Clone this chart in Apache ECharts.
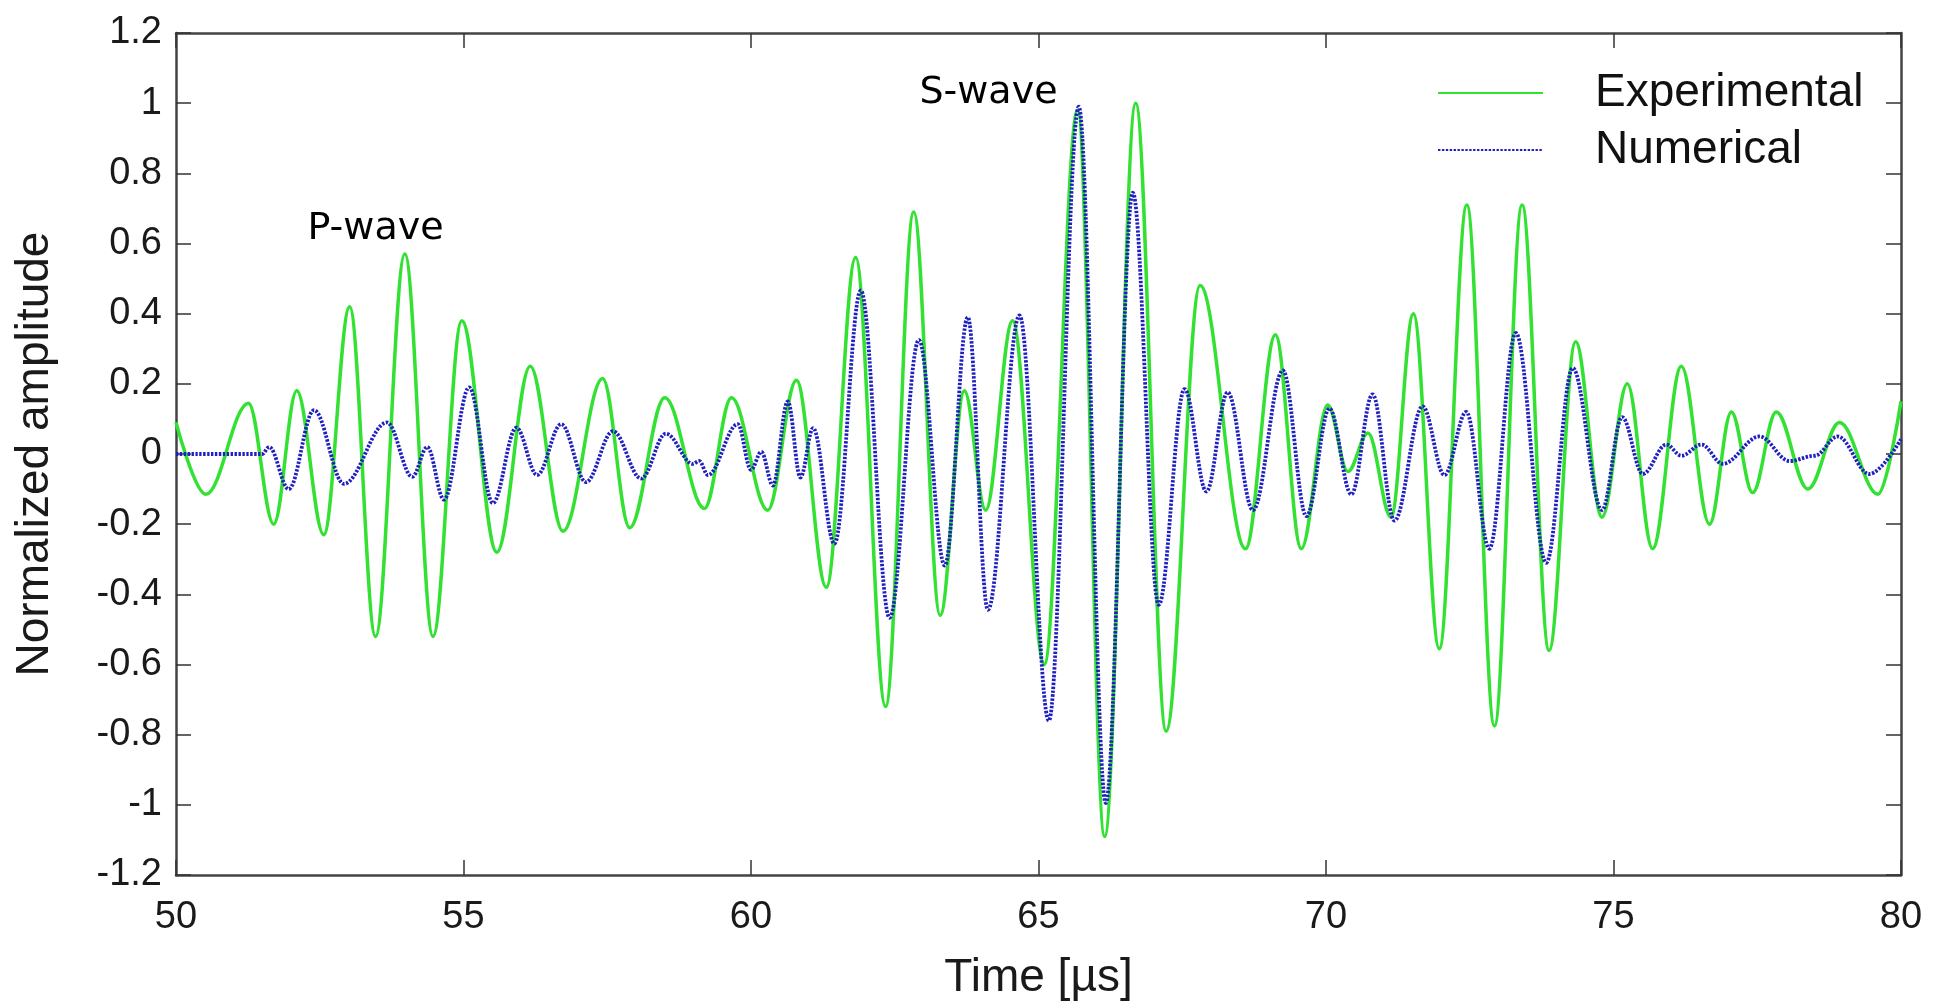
<!DOCTYPE html>
<html><head><meta charset="utf-8">
<script src="https://cdn.jsdelivr.net/npm/echarts@6/dist/echarts.min.js"></script>
<style>html,body{margin:0;padding:0;background:#fff}#c{width:1936px;height:1006px}</style>
</head><body><div id="c"></div>
<script>
const expTime = [50.00,50.52,51.26,51.70,52.10,52.57,53.02,53.47,53.98,54.47,54.97,55.58,56.16,56.73,57.42,57.89,58.50,59.19,59.66,60.29,60.79,61.31,61.82,62.34,62.83,63.29,63.71,64.08,64.55,65.10,65.68,66.15,66.69,67.22,67.81,68.60,69.12,69.57,70.03,70.38,70.73,71.13,71.52,71.97,72.45,72.93,73.41,73.88,74.34,74.80,75.24,75.68,76.18,76.67,77.05,77.42,77.83,78.38,78.93,79.60,80.00];
const expAmp  = [0.09,-0.115,0.145,-0.20,0.18,-0.23,0.42,-0.52,0.57,-0.52,0.38,-0.28,0.25,-0.22,0.215,-0.21,0.16,-0.155,0.16,-0.16,0.21,-0.38,0.56,-0.72,0.69,-0.46,0.18,-0.16,0.38,-0.60,0.98,-1.09,1.00,-0.79,0.48,-0.27,0.34,-0.27,0.14,-0.05,0.06,-0.18,0.40,-0.555,0.71,-0.775,0.71,-0.56,0.32,-0.18,0.20,-0.27,0.25,-0.20,0.12,-0.11,0.12,-0.10,0.09,-0.115,0.15];
// Numerical signal
const numTime = [50.00,51.50,51.62,51.96,52.40,52.92,53.67,54.11,54.37,54.66,55.10,55.51,55.92,56.28,56.70,57.13,57.60,58.09,58.52,58.99,59.10,59.25,59.77,60.00,60.18,60.38,60.64,60.86,61.08,61.45,61.91,62.41,62.92,63.37,63.77,64.12,64.67,65.18,65.70,66.17,66.64,67.09,67.54,67.92,68.29,68.73,69.25,69.66,70.06,70.44,70.81,71.19,71.68,72.06,72.44,72.84,73.30,73.83,74.29,74.80,75.15,75.51,75.92,76.18,76.53,76.90,77.54,78.06,78.50,78.90,79.45,80.00];
const numAmp  = [0,0,0.02,-0.10,0.125,-0.085,0.09,-0.065,0.02,-0.13,0.19,-0.14,0.075,-0.06,0.085,-0.08,0.065,-0.07,0.058,-0.028,-0.02,-0.06,0.085,-0.045,0.006,-0.09,0.15,-0.067,0.074,-0.256,0.466,-0.467,0.325,-0.318,0.39,-0.444,0.395,-0.76,0.99,-0.995,0.745,-0.43,0.185,-0.107,0.176,-0.16,0.238,-0.177,0.13,-0.115,0.17,-0.19,0.136,-0.06,0.12,-0.27,0.345,-0.31,0.245,-0.16,0.105,-0.057,0.027,-0.005,0.027,-0.028,0.05,-0.02,-0.005,0.05,-0.057,0.042];
// Annotation labels and their anchor (time, amplitude)
const noteText = ['P-wave','S-wave'];
const noteTime = [53.47, 64.13];
const noteAmp  = [0.64, 1.03];
const seriesNames = ['Experimental','Numerical'];

const zip = (a,b) => a.map((v,i)=>[v,b[i]]);
const chart = echarts.init(document.getElementById('c'), null, {renderer:'canvas'});
const frame = {show:true, onZero:false, lineStyle:{color:'#444', width:2.5}};
const tick = {show:true, inside:true, length:15, lineStyle:{color:'#333', width:1.5}};
const lab = {fontFamily:'Liberation Sans, Arial, sans-serif', fontSize:38, color:'#1a1a1a'};
chart.setOption({
  backgroundColor:'#fff',
  animation:false,
  grid:{left:176, right:35, top:33, bottom:122, containLabel:false},
  legend:{
    data:seriesNames, orient:'vertical', left:1432, top:65, itemWidth:105, itemHeight:20, itemGap:11,
    itemStyle:{opacity:0},
    textStyle:{fontFamily:'Liberation Sans, Arial, sans-serif', fontSize:46, color:'#111', padding:[0,0,0,47]},
    selectedMode:false
  },
  xAxis:[
    {type:'value', min:50, max:80, interval:5, position:'bottom',
     name:'Time [µs]', nameLocation:'middle', nameGap:80,
     nameTextStyle:{fontFamily:'Liberation Sans, Arial, sans-serif', fontSize:46, color:'#1a1a1a'},
     axisLine:frame, axisTick:tick, splitLine:{show:false},
     axisLabel:Object.assign({margin:24}, lab)},
    {type:'value', min:50, max:80, interval:5, position:'top',
     axisLine:frame, axisTick:tick, splitLine:{show:false}, axisLabel:{show:false}}
  ],
  yAxis:[
    {type:'value', min:-1.2, max:1.2, interval:0.2, position:'left',
     name:'Normalized amplitude', nameLocation:'middle', nameGap:118,
     nameTextStyle:{fontFamily:'Liberation Sans, Arial, sans-serif', fontSize:46, color:'#1a1a1a'},
     axisLine:frame, axisTick:tick, splitLine:{show:false},
     axisLabel:Object.assign({margin:14, formatter:v=>String(Math.round(v*10)/10)}, lab)},
    {type:'value', min:-1.2, max:1.2, interval:0.2, position:'right',
     axisLine:frame, axisTick:tick, splitLine:{show:false}, axisLabel:{show:false}}
  ],
  series:[
    {name:seriesNames[0], type:'line', data:zip(expTime, expAmp), showSymbol:false, symbol:'none',
     smooth:0.36, smoothMonotone:'x', lineStyle:{color:'#33e133', width:3.5}, itemStyle:{color:'#33e133'}, z:2},
    {name:seriesNames[1], type:'line', data:zip(numTime, numAmp), showSymbol:false, symbol:'none',
     smooth:0.36, smoothMonotone:'x', lineStyle:{color:'#2020c0', width:3.8, type:[2.4,1.5]}, itemStyle:{color:'#2020c0'}, z:3},
    {name:'notes', type:'scatter', data:noteTime.map((t,i)=>({value:[t,noteAmp[i]], name:noteText[i]})),
     symbolSize:2, itemStyle:{color:'rgba(0,0,0,0)'}, silent:true, z:4,
     label:{show:true, position:'inside', formatter:p=>p.name, fontFamily:'DejaVu Sans, sans-serif', fontSize:38, color:'#000', opacity:1}}
  ]
});
</script></body></html>
